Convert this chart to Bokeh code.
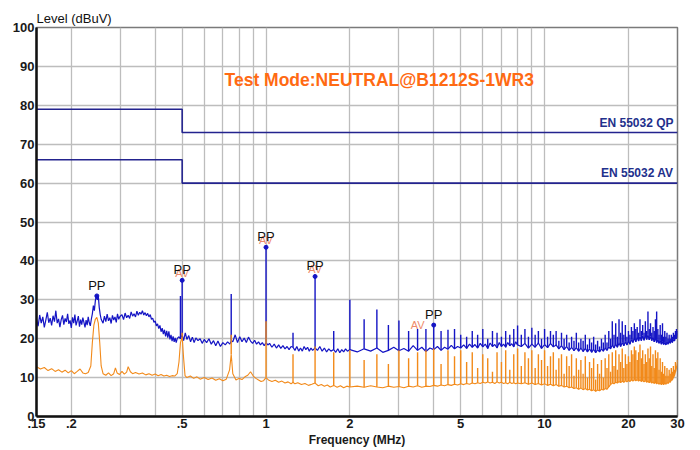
from bokeh.plotting import figure
from bokeh.models import FixedTicker, Range1d, Label
from bokeh.embed import file_html
from bokeh.resources import INLINE
from bokeh.core.properties import value

# ---------------- data ----------------
x_tick_mhz = [0.15, 0.2, 0.5, 1, 2, 5, 10, 20, 30]
x_tick_labels = [".15", ".2", ".5", "1", "2", "5", "10", "20", "30"]
x_grid_mhz = [0.2, 0.3, 0.4, 0.5, 0.6, 0.7, 0.8, 0.9, 1, 2, 3, 4, 5, 6, 7, 8, 9, 10, 20]
y_ticks = [0, 10, 20, 30, 40, 50, 60, 70, 80, 90, 100]

limit_mhz = [0.15, 0.5, 0.5, 30]
limit_qp = [79, 79, 73, 73]
limit_av = [66, 66, 60, 60]

# peak (blue) trace, 0.15 - 2 MHz
blue_lo_mhz = [0.150, 0.152, 0.154, 0.156, 0.158, 0.160, 0.162, 0.164, 0.166, 0.168,
               0.170, 0.172, 0.174, 0.176, 0.178, 0.180, 0.182, 0.184, 0.186, 0.188,
               0.190, 0.192, 0.194, 0.196, 0.198, 0.200, 0.202, 0.204, 0.206, 0.208,
               0.210, 0.212, 0.214, 0.216, 0.218, 0.220, 0.222, 0.224, 0.226, 0.228,
               0.230, 0.232, 0.234, 0.236, 0.238,
               0.240, 0.242, 0.244, 0.246, 0.248, 0.250, 0.252, 0.254, 0.256,
               0.260, 0.263, 0.266, 0.269, 0.272, 0.275, 0.278, 0.281, 0.284, 0.287,
               0.290, 0.293, 0.296, 0.299,
               0.304, 0.308, 0.312, 0.316, 0.320, 0.324, 0.328, 0.332, 0.336, 0.340,
               0.344, 0.348, 0.352, 0.356, 0.360, 0.364, 0.368, 0.372, 0.376, 0.380,
               0.384, 0.388, 0.392, 0.396, 0.400, 0.404, 0.408, 0.412, 0.416, 0.420,
               0.424, 0.428, 0.432, 0.436, 0.440, 0.444, 0.448, 0.452, 0.456, 0.460,
               0.464, 0.468, 0.472, 0.476, 0.480,
               0.486, 0.493, 0.500, 0.506, 0.513, 0.520, 0.528, 0.536, 0.544,
               0.552, 0.560, 0.570, 0.580, 0.590, 0.600, 0.612, 0.624, 0.636, 0.648,
               0.660, 0.672, 0.686, 0.700, 0.714, 0.728, 0.742, 0.750, 0.760, 0.775,
               0.790, 0.805, 0.820, 0.835, 0.850, 0.865, 0.880, 0.895, 0.910, 0.925,
               0.940, 0.955, 0.970, 0.985, 1.000, 1.015, 1.030, 1.050, 1.070, 1.090,
               1.110, 1.130, 1.150, 1.170, 1.190, 1.210, 1.230, 1.250, 1.270, 1.290,
               1.310, 1.330, 1.350, 1.370, 1.390, 1.410, 1.430, 1.450, 1.470, 1.500,
               1.530, 1.560, 1.590, 1.620, 1.650, 1.680, 1.710, 1.750, 1.780, 1.810,
               1.840, 1.870, 1.900, 1.930, 1.960]
blue_lo_db = [25.0, 23.2, 26.1, 24.0, 25.6, 22.9, 24.8, 26.8, 24.1, 25.3,
              23.4, 25.9, 24.4, 27.2, 24.0, 25.1, 23.0, 24.9, 26.0, 23.6,
              25.2, 24.3, 26.4, 23.8, 24.7, 22.8, 25.5, 24.0, 26.2, 23.4,
              24.6, 25.8, 23.1, 24.9, 23.6, 25.4, 24.2, 22.9, 24.8, 23.5,
              25.6, 24.1, 23.3, 25.0, 26.4,
              28.5, 27.2, 29.8, 31.2, 30.0, 31.0, 28.0, 26.2, 25.0,
              24.0, 25.8, 24.4, 26.3, 24.6, 25.4, 23.9, 26.0, 24.8, 25.6,
              24.2, 26.4, 25.0, 25.7,
              26.2, 24.9, 26.6, 25.4, 26.0, 25.2, 26.9, 25.8, 26.4, 25.6,
              27.1, 26.0, 26.8, 26.3, 27.2, 26.1, 26.7, 25.9, 26.5, 25.6,
              26.2, 25.0, 25.3, 24.2, 24.6, 23.3, 23.8, 22.6, 23.4, 21.8,
              22.7, 21.2, 22.3, 20.6, 22.0, 20.3, 21.9, 19.8, 21.0, 19.4,
              20.6, 19.2, 20.2, 19.0, 20.0,
              20.5, 20.0, 21.0, 19.5, 21.5, 19.8, 20.8, 19.2, 20.4,
              19.0, 20.2, 19.5, 20.0, 18.8, 19.8, 19.0, 20.0, 18.6, 19.5,
              18.2, 19.4, 18.0, 19.0, 18.4, 19.2, 18.6, 19.5, 19.2, 21.0,
              19.0, 20.5, 19.2, 20.2, 19.0, 20.4, 19.4, 18.8, 19.6, 18.6,
              19.2, 18.4, 19.0, 18.2, 19.0, 18.4, 18.8, 17.8, 18.6, 17.6,
              18.4, 17.5, 18.2, 17.4, 18.0, 17.2, 18.0, 17.8, 17.0, 18.0,
              16.8, 17.6, 16.8, 18.0, 17.2, 17.8, 16.8, 17.6, 17.0, 17.6,
              17.0, 18.0, 16.8, 17.6, 16.6, 17.4, 16.8, 17.2, 16.5, 17.4,
              16.4, 17.2, 16.6, 17.4, 16.8]

# average (orange) trace, 0.15 - 2 MHz
orange_lo_mhz = [0.150, 0.155, 0.160, 0.165, 0.170, 0.175, 0.180, 0.185, 0.190, 0.195,
                 0.200, 0.205, 0.210, 0.215, 0.220, 0.225, 0.230, 0.235, 0.238, 0.241,
                 0.244, 0.247, 0.250, 0.253, 0.256, 0.260, 0.266, 0.272, 0.278, 0.284,
                 0.288, 0.292, 0.298, 0.304, 0.310, 0.316, 0.320, 0.326, 0.332, 0.340,
                 0.350, 0.360, 0.370, 0.380, 0.390, 0.400, 0.410, 0.420, 0.430, 0.440,
                 0.450, 0.460, 0.470, 0.480, 0.487, 0.493, 0.500, 0.506, 0.512, 0.520,
                 0.535, 0.550, 0.565, 0.580, 0.600, 0.620, 0.640, 0.660, 0.680, 0.700,
                 0.720, 0.740, 0.750, 0.760, 0.780, 0.800, 0.820, 0.840, 0.860, 0.880,
                 0.900, 0.920, 0.940, 0.960, 0.980, 1.000, 1.020, 1.050, 1.080, 1.110,
                 1.140, 1.170, 1.200, 1.230, 1.250, 1.270, 1.300, 1.340, 1.380, 1.420,
                 1.460, 1.500, 1.540, 1.580, 1.620, 1.660, 1.700, 1.750, 1.800, 1.850,
                 1.900, 1.950]
orange_lo_db = [12.8, 12.2, 12.6, 11.8, 12.3, 11.6, 12.0, 11.4, 11.9, 11.2,
                11.8, 11.0, 11.6, 12.2, 11.2, 11.0, 11.3, 13.0, 19.0, 23.5,
                25.0, 25.5, 24.0, 19.0, 13.0, 11.0, 10.6, 11.2, 10.5, 11.0,
                12.5, 11.2, 10.8, 11.6, 10.9, 11.4, 12.8, 11.5, 11.0, 11.3,
                10.9, 11.2, 10.7, 11.0, 10.6, 10.9, 10.5, 10.8, 10.4, 10.6,
                10.3, 10.5, 10.4, 11.0, 14.0, 19.0, 20.5, 15.0, 10.5, 10.0,
                10.4, 9.8, 10.2, 9.6, 10.0, 9.5, 9.9, 9.3, 9.7, 9.2,
                9.6, 12.0, 16.0, 11.0, 9.4, 9.8, 9.5, 10.2, 10.6, 11.5,
                10.4, 9.8, 9.4, 9.0, 9.2, 10.0, 9.4, 9.0, 9.3, 8.8,
                9.1, 8.6, 8.9, 8.4, 8.8, 8.4, 8.7, 8.2, 8.5, 8.0,
                8.3, 8.6, 7.9, 8.2, 7.8, 8.1, 7.6, 8.0, 7.5, 7.9,
                7.4, 7.8]

# both traces, 2 - 30 MHz sweep points
hi_mhz = [2.0, 2.125, 2.25, 2.375, 2.5, 2.625, 2.75, 2.875, 3.0, 3.125,
          3.25, 3.375, 3.5, 3.625, 3.75, 3.875, 4.0, 4.125, 4.25, 4.375,
          4.5, 4.625, 4.75, 4.875, 5.0, 5.125, 5.25, 5.375, 5.5, 5.625,
          5.75, 5.875, 6.0, 6.125, 6.25, 6.375, 6.5, 6.625, 6.75, 6.875,
          7.0, 7.125, 7.25, 7.375, 7.5, 7.625, 7.75, 7.875, 8.0,
          8.25, 8.5, 8.75, 9.0, 9.25, 9.5, 9.75, 10.0, 10.25, 10.5,
          10.75, 11.0, 11.25, 11.5, 11.75, 12.0, 12.25, 12.5, 12.75, 13.0,
          13.25, 13.5, 13.75, 14.0, 14.25, 14.5, 14.75, 15.0, 15.25, 15.5,
          15.75, 16.0, 16.25, 16.5, 16.75, 17.0, 17.25, 17.5, 17.75, 18.0,
          18.25, 18.5, 18.75, 19.0, 19.25, 19.5, 19.75, 20.0, 20.25, 20.5,
          20.75, 21.0, 21.25, 21.5, 21.75, 22.0, 22.25, 22.5, 22.75, 23.0,
          23.25, 23.5, 23.75, 24.0, 24.25, 24.5, 24.75, 25.0, 25.25, 25.5,
          25.75, 26.0, 26.25, 26.5, 26.75, 27.0, 27.25, 27.5, 27.75, 28.0,
          28.25, 28.5, 28.75, 29.0, 29.25, 29.5, 29.75, 30.0]
blue_hi_db = [17.2, 16.6, 17.4, 16.8, 17.6, 16.5, 17.0, 17.8, 16.9, 17.5,
              16.8, 18.2, 17.0, 17.8, 16.7, 17.6, 17.2, 18.0, 17.0, 17.8,
              17.3, 18.3, 17.4, 18.0, 17.6, 18.4, 17.5, 18.6, 17.8, 18.5,
              17.6, 18.8, 17.9, 18.6, 17.5, 18.9, 18.0, 18.5, 17.6, 19.0,
              18.0, 18.6, 17.8, 19.0, 18.2, 18.7, 17.9, 19.2, 18.4,
              18.0, 18.8, 17.6, 18.6, 17.8, 18.9, 17.5, 18.5, 17.7, 18.8,
              17.9, 18.4, 17.4, 18.2, 17.2, 18.0, 17.0, 17.8, 16.9, 17.7,
              16.8, 17.6, 16.7, 17.5, 16.6, 17.4, 16.5, 17.3, 16.4, 17.2,
              16.6, 17.4, 16.8, 17.6, 17.0, 17.9, 17.4, 18.4, 17.6, 18.6,
              17.8, 18.9, 18.0, 19.0, 18.2, 19.2, 18.4, 19.4, 18.6, 19.8,
              19.0, 20.2, 19.2, 20.4, 19.4, 20.6, 19.5, 20.8, 19.6, 20.9,
              19.8, 21.0, 19.7, 20.6, 19.5, 20.4, 19.2, 20.2, 19.0, 19.8,
              18.8, 19.5, 18.6, 19.3, 18.5, 19.0, 18.4, 19.2, 18.6, 19.4,
              18.8, 19.6, 19.0, 19.8, 19.4, 20.4, 20.0, 21.5]
orange_hi_db = [7.6, 7.8, 7.5, 7.9, 7.6, 7.4, 7.8, 7.5, 7.7, 7.4,
                7.8, 7.6, 7.9, 7.5, 7.8, 7.7, 8.0, 7.8, 8.1, 7.9,
                8.2, 8.0, 8.3, 8.1, 8.4, 8.2, 8.5, 8.3, 8.6, 8.4,
                8.7, 8.5, 8.8, 8.6, 8.9, 8.6, 8.8, 8.5, 8.9, 8.6,
                8.8, 8.5, 8.7, 8.4, 8.8, 8.5, 8.7, 8.4, 8.6,
                8.4, 8.7, 8.3, 8.6, 8.2, 8.5, 8.1, 8.4, 8.0, 8.3,
                7.9, 8.2, 7.8, 8.0, 7.6, 7.8, 7.4, 7.6, 7.2, 7.4,
                7.0, 7.3, 6.9, 7.2, 6.8, 7.0, 6.6, 6.9, 6.5, 6.8,
                6.6, 7.0, 6.8, 7.2, 7.0, 7.6, 8.2, 8.6, 8.4, 8.8,
                8.6, 9.0, 8.7, 9.1, 8.8, 9.2, 8.9, 9.3, 9.0, 9.4,
                9.1, 9.5, 9.2, 9.5, 9.1, 9.4, 9.0, 9.3, 8.9, 9.2,
                8.8, 9.1, 8.7, 9.0, 8.6, 8.9, 8.5, 8.8, 8.4, 8.7,
                8.3, 8.6, 8.2, 8.5, 8.2, 8.6, 8.3, 8.8, 8.5, 9.0,
                8.8, 9.3, 9.4, 10.0, 10.5, 11.5, 12.5, 14.0]

# harmonic spikes (250 kHz switching harmonics)
spike_mhz = [0.493, 0.5, 0.75, 1.0, 1.25, 1.5, 1.75, 2.0, 2.25, 2.5, 2.75,
             3.0, 3.25, 3.5, 3.75, 4.0, 4.25, 4.5, 4.75, 5.0, 5.25,
             5.5, 5.75, 6.0, 6.25, 6.5, 6.75, 7.0, 7.25, 7.5, 7.75,
             8.0, 8.25, 8.5, 8.75, 9.0, 9.25, 9.5, 9.75, 10.0, 10.25,
             10.5, 10.75, 11.0, 11.25, 11.5, 11.75, 12.0, 12.25, 12.5, 12.75,
             13.0, 13.25, 13.5, 13.75, 14.0, 14.25, 14.5, 14.75, 15.0, 15.25,
             15.5, 15.75, 16.0, 16.25, 16.5, 16.75, 17.0, 17.25, 17.5, 17.75,
             18.0, 18.25, 18.5, 18.75, 19.0, 19.25, 19.5, 19.75, 20.0, 20.25,
             20.5, 20.75, 21.0, 21.25, 21.5, 21.75, 22.0, 22.25, 22.5, 22.75,
             23.0, 23.25, 23.5, 23.75, 24.0, 24.25, 24.5, 24.75, 25.0, 25.25,
             25.5, 25.75, 26.0, 26.25, 26.5, 26.75, 27.0, 27.25, 27.5, 27.75,
             28.0, 28.25, 28.5, 28.75, 29.0, 29.25, 29.5, 29.75, 30.0]
spike_blue_db = [31.0, 35.0, 31.5, 43.5, 21.5, 36.0, 22.0, 30.0, 25.0, 27.5, 23.5,
                 24.7, 22.0, 22.5, 22.5, 23.5, 22.0, 22.3, 22.5, 21.0, 20.5,
                 22.0, 21.0, 22.5, 20.0, 22.0, 21.5, 20.5, 22.0, 21.0, 22.5,
                 23.4, 21.0, 22.5, 20.5, 22.8, 21.0, 22.0, 20.0, 22.5, 20.5,
                 22.0, 21.0, 22.0, 19.5, 21.5, 20.0, 21.0, 19.0, 20.5, 19.5,
                 21.5, 19.0, 20.0, 19.5, 21.0, 18.5, 20.0, 19.0, 20.5, 18.5,
                 19.5, 18.0, 20.0, 19.0, 21.0, 19.0, 22.0, 20.0, 24.5, 21.0,
                 24.0, 20.5, 25.0, 21.5, 24.5, 21.0, 23.5, 20.5, 22.0, 21.0,
                 23.0, 22.0, 24.0, 22.5, 23.0, 21.5, 25.0, 22.0, 23.5, 21.5,
                 24.5, 22.0, 27.0, 22.5, 24.0, 21.5, 23.0, 22.0, 25.0, 27.0,
                 22.5, 21.0, 23.5, 21.0, 24.0, 20.5, 22.0, 20.5, 21.5, 20.0,
                 21.0, 20.0, 21.0, 20.5, 21.5, 21.0, 22.0, 22.5, 22.0]
spike_orange_db = [19.0, 21.5, 21.0, 24.5, 16.0, 18.0, 16.5, 17.0, 14.5, 16.0, 13.5,
                   17.0, 15.0, 16.5, 17.0, 17.5, 13.5, 17.0, 15.5, 17.0, 14.0,
                   16.5, 12.5, 16.0, 15.0, 11.5, 16.5, 14.0, 17.0, 12.0, 16.0,
                   17.5, 13.0, 16.5, 15.0, 17.0, 12.5, 16.0, 14.5, 17.0, 13.0,
                   15.5, 16.5, 12.0, 15.0, 16.0, 11.0, 15.5, 13.0, 16.0, 10.5,
                   15.0, 12.0, 14.5, 11.0, 15.5, 10.0, 14.0, 12.5, 15.0, 9.5,
                   13.5, 11.0, 14.5, 10.0, 15.0, 12.5, 16.0, 11.5, 16.5, 13.0,
                   17.0, 12.0, 16.0, 14.0, 17.5, 12.5, 16.0, 13.5, 15.5, 14.0,
                   17.0, 16.0, 18.0, 17.0, 14.5, 16.5, 18.5, 15.0, 17.0, 13.5,
                   16.0, 14.0, 17.5, 15.0, 18.0, 13.0, 16.0, 12.5, 17.0, 15.0,
                   16.5, 12.0, 15.0, 11.5, 14.0, 11.0, 13.0, 10.5, 12.5, 10.5,
                   12.0, 11.0, 12.5, 11.5, 13.0, 12.0, 14.0, 13.0, 14.5]

# final-measurement markers
pp_mhz = [0.247, 0.5, 1.0, 1.5, 4.0]
pp_db = [31.0, 35.0, 43.5, 36.0, 23.5]
av_mhz = [0.5, 1.0, 1.5, 3.5]
av_db = [35.0, 43.5, 36.0, 21.8]

# ---------------- figure ----------------
FONT = "Liberation Sans"
BLUE = "#1414C4"
ORANGE = "#F28A1A"
NAVY = "#23238E"

p = figure(x_axis_type="log", x_range=Range1d(0.15, 30), y_range=Range1d(0, 100),
           frame_width=641, frame_height=389, output_backend="svg", toolbar_location=None,
           min_border_left=36, min_border_right=20, min_border_top=27, min_border_bottom=10,
           title="Level (dBuV)")
p.background_fill_color = "white"
p.border_fill_color = "white"
p.outline_line_color = "#7a7a7a"
p.outline_line_width = 1.5

p.title.text_font = FONT
p.title.text_font_size = "13px"
p.title.text_font_style = "normal"
p.title.text_color = "#111111"
p.title.standoff = 4
p.title.align = "left"
p.title.offset = 0

p.xaxis.ticker = FixedTicker(ticks=x_tick_mhz)
p.xaxis.major_label_overrides = dict(zip(x_tick_mhz, x_tick_labels))
p.yaxis.ticker = FixedTicker(ticks=y_ticks)
p.xgrid.ticker = FixedTicker(ticks=x_grid_mhz)
p.ygrid.ticker = FixedTicker(ticks=y_ticks)
for g in (p.xgrid, p.ygrid):
    g.grid_line_color = "#bdbdbd"
    g.grid_line_width = 1.3

for ax in (p.xaxis, p.yaxis):
    ax.axis_line_color = "#111111"
    ax.axis_line_width = 2.5
    ax.major_tick_in = 0
    ax.major_tick_out = 0
    ax.minor_tick_in = 0
    ax.minor_tick_out = 0
    ax.major_label_text_font = FONT
    ax.major_label_text_font_style = "bold"
    ax.major_label_text_font_size = "13px"
    ax.major_label_text_color = "#1a1a1a"
    ax.major_label_standoff = 2

p.xaxis.axis_label = "Frequency (MHz)"
p.xaxis.axis_label_text_font = FONT
p.xaxis.axis_label_text_font_style = "bold"
p.xaxis.axis_label_text_font_size = "12px"
p.xaxis.axis_label_text_color = "#1a1a1a"
p.xaxis.axis_label_standoff = 2

# limit lines
p.line(limit_mhz, limit_qp, line_color=NAVY, line_width=1.6)
p.line(limit_mhz, limit_av, line_color=NAVY, line_width=1.6)
p.add_layout(Label(x=30, y=73, x_offset=-4, y_offset=3, text="EN 55032 QP",
                   text_font=FONT, text_font_style="bold", text_font_size="12px",
                   text_color="#22308C", text_align="right", text_baseline="bottom"))
p.add_layout(Label(x=30, y=60, x_offset=-4, y_offset=3, text="EN 55032 AV",
                   text_font=FONT, text_font_style="bold", text_font_size="12px",
                   text_color="#22308C", text_align="right", text_baseline="bottom"))

# traces
blue_f = blue_lo_mhz + hi_mhz
blue_v = blue_lo_db + blue_hi_db
orange_f = orange_lo_mhz + hi_mhz
orange_v = orange_lo_db + orange_hi_db
blue_base = {round(f, 4): v for f, v in zip(blue_f, blue_v)}
orange_base = {round(f, 4): v for f, v in zip(orange_f, orange_v)}

p.line(blue_f, blue_v, line_color=BLUE, line_width=1.2)
p.segment(x0=spike_mhz, y0=[blue_base[round(f, 4)] for f in spike_mhz],
          x1=spike_mhz, y1=spike_blue_db, line_color=BLUE, line_width=1.4)
p.line(orange_f, orange_v, line_color=ORANGE, line_width=1.1)
p.segment(x0=spike_mhz, y0=[orange_base[round(f, 4)] for f in spike_mhz],
          x1=spike_mhz, y1=spike_orange_db, line_color=ORANGE, line_width=1.4)

# markers
p.text(x=av_mhz, y=av_db, text=["AV"] * len(av_mhz), text_font=value(FONT),
       text_font_size="11px", text_color="#EE8A6A", text_align="center",
       text_baseline="bottom", y_offset=-1)
p.scatter(pp_mhz, pp_db, marker="circle", size=4, color=BLUE)
p.text(x=pp_mhz, y=pp_db, text=["PP"] * len(pp_mhz), text_font=value(FONT),
       text_font_size="13px", text_color="#111111", text_align="center",
       text_baseline="bottom", y_offset=-3)

p.add_layout(Label(x=2.55, y=86.4, text="Test Mode:NEUTRAL@B1212S-1WR3",
                   text_font=FONT, text_font_style="bold", text_font_size="17.5px",
                   text_color="#FF6A13", text_align="center", text_baseline="middle"))

open("out.html", "w").write(file_html(p, INLINE))
